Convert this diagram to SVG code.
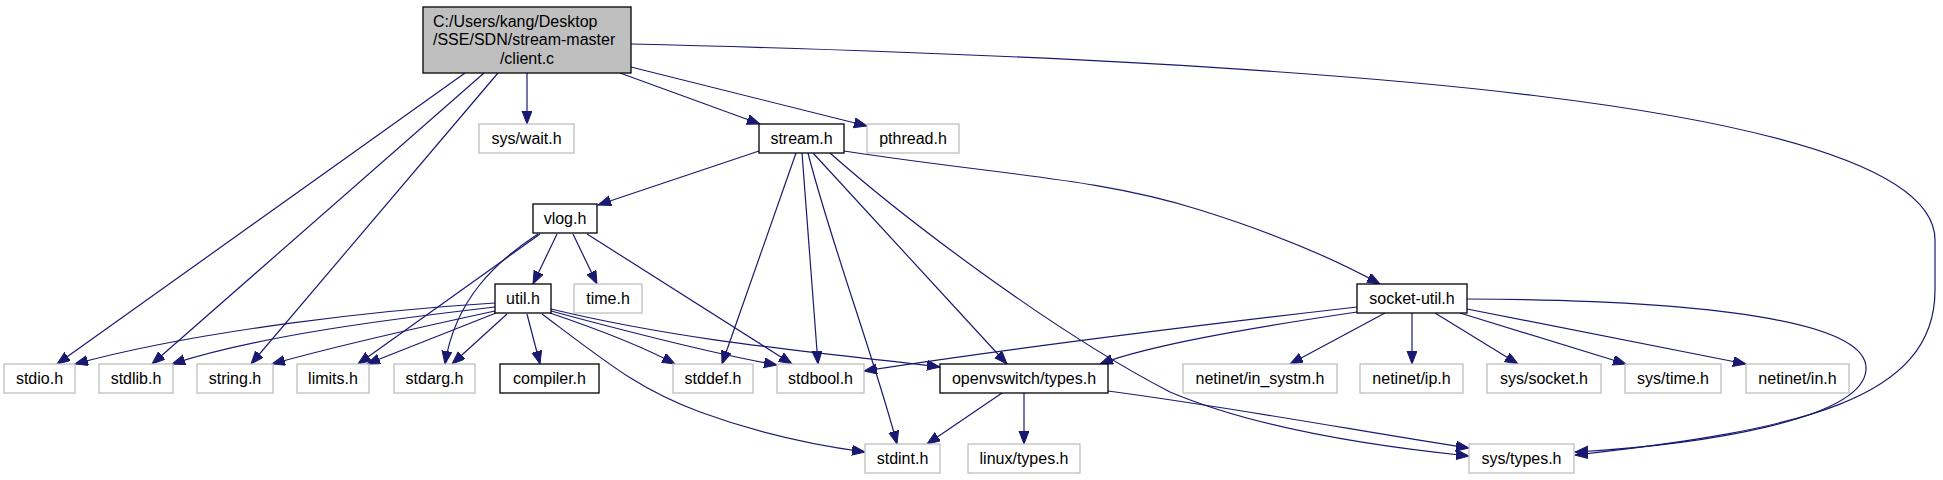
<svg xmlns="http://www.w3.org/2000/svg" width="1943" height="480" viewBox="0 0 1943 480">
<style>
text{font-family:"Liberation Sans",Arial,Helvetica,sans-serif;font-size:16px;fill:#000;text-anchor:middle}
.n rect{fill:#fff;stroke:#000;stroke-width:1.3}
.g rect{fill:#fff;stroke:#bfbfbf;stroke-width:1.3}
.e path{fill:none;stroke:#191970;stroke-width:1.2;marker-end:url(#a)}
</style>
<defs>
<marker id="a" markerUnits="userSpaceOnUse" markerWidth="14" markerHeight="11" refX="13" refY="5" orient="auto">
<path d="M0,0 L13,5 L0,10 z" fill="#191970" stroke="#191970" stroke-width="1"/>
</marker>
</defs>
<rect width="1943" height="480" fill="#fff"/>
<g id="edges" class="e">
<path d="M465,73 L57,364"/>
<path d="M484,73 L152,364"/>
<path d="M498,73 L251,364"/>
<path d="M527,73 L527,124"/>
<path d="M620,73 L760,124"/>
<path d="M631,67 L867,126"/>
<path d="M631,44 C1300,60 1935,100 1935,240 L1935,290 C1935,400 1800,430 1575,455"/>
<path d="M759,151 L598,205"/>
<path d="M796,153 L722,364"/>
<path d="M802,153 L818,364"/>
<path d="M808,153 C830,240 875,360 897,444"/>
<path d="M813,153 L1007,364"/>
<path d="M830,153 C900,215 1050,330 1170,392 C1260,430 1380,447 1469,456"/>
<path d="M844,151 C1000,175 1100,178 1200,210 C1280,235 1340,262 1380,284"/>
<path d="M557,234 L533,284"/>
<path d="M573,234 L597,284"/>
<path d="M587,234 L792,364"/>
<path d="M540,234 L358,364"/>
<path d="M538,234 C495,262 455,300 445,364"/>
<path d="M495,303 C380,310 200,330 75,364"/>
<path d="M495,307 C400,318 260,335 172,364"/>
<path d="M495,311 C430,325 340,345 272,364"/>
<path d="M496,313 L367,364"/>
<path d="M507,314 L452,364"/>
<path d="M527,314 L540,364"/>
<path d="M550,313 C600,330 640,345 675,364"/>
<path d="M551,311 C640,335 720,355 777,365"/>
<path d="M551,309 C700,345 850,355 940,367"/>
<path d="M542,314 C610,365 640,390 700,412 C760,434 820,446 865,452"/>
<path d="M1357,307 C1200,325 1000,350 864,371"/>
<path d="M1357,312 C1250,328 1150,345 1100,364"/>
<path d="M1385,313 L1290,364"/>
<path d="M1412,313 L1412,364"/>
<path d="M1435,313 L1518,364"/>
<path d="M1460,313 L1626,364"/>
<path d="M1467,309 L1746,364"/>
<path d="M1467,299 C1700,300 1870,320 1866,370 C1862,420 1700,445 1575,452"/>
<path d="M1002,393 L927,444"/>
<path d="M1024,393 L1024,444"/>
<path d="M1108,391 C1250,410 1380,435 1469,448"/>
</g>
<g id="client_c" class="n"><rect x="423" y="7" width="208" height="66" style="fill:#bfbfbf"/>
<text x="433" y="26.5" style="text-anchor:start">C:/Users/kang/Desktop</text>
<text x="433" y="45" style="text-anchor:start">/SSE/SDN/stream-master</text>
<text x="527" y="64">/client.c</text></g>
<g id="sys_wait_h" class="g"><rect x="479" y="124" width="95" height="29"/><text x="526.5" y="144">sys/wait.h</text></g>
<g id="stream_h" class="n"><rect x="759" y="124" width="85" height="29"/><text x="801.5" y="144">stream.h</text></g>
<g id="pthread_h" class="g"><rect x="867" y="124" width="92" height="29"/><text x="913" y="144">pthread.h</text></g>
<g id="vlog_h" class="n"><rect x="533" y="204" width="64" height="29"/><text x="565" y="224">vlog.h</text></g>
<g id="util_h" class="n"><rect x="495" y="284" width="56" height="29"/><text x="523" y="304">util.h</text></g>
<g id="time_h" class="g"><rect x="574" y="284" width="68" height="29"/><text x="608" y="304">time.h</text></g>
<g id="socket_util_h" class="n"><rect x="1357" y="284" width="110" height="29"/><text x="1412" y="304">socket-util.h</text></g>
<g id="stdio_h" class="g"><rect x="4" y="364" width="71" height="29"/><text x="39.5" y="384">stdio.h</text></g>
<g id="stdlib_h" class="g"><rect x="99" y="364" width="74" height="29"/><text x="136" y="384">stdlib.h</text></g>
<g id="string_h" class="g"><rect x="197" y="364" width="76" height="29"/><text x="235" y="384">string.h</text></g>
<g id="limits_h" class="g"><rect x="297" y="364" width="72" height="29"/><text x="333" y="384">limits.h</text></g>
<g id="stdarg_h" class="g"><rect x="394" y="364" width="81" height="29"/><text x="434.5" y="384">stdarg.h</text></g>
<g id="compiler_h" class="n"><rect x="500" y="364" width="99" height="29"/><text x="549.5" y="384">compiler.h</text></g>
<g id="stddef_h" class="g"><rect x="673" y="364" width="80" height="29"/><text x="713" y="384">stddef.h</text></g>
<g id="stdbool_h" class="g"><rect x="777" y="364" width="87" height="29"/><text x="820.5" y="384">stdbool.h</text></g>
<g id="openvswitch_types_h" class="n"><rect x="940" y="364" width="168" height="29"/><text x="1024" y="384">openvswitch/types.h</text></g>
<g id="netinet_in_systm_h" class="g"><rect x="1183" y="364" width="154" height="29"/><text x="1260" y="384">netinet/in_systm.h</text></g>
<g id="netinet_ip_h" class="g"><rect x="1360" y="364" width="103" height="29"/><text x="1411.5" y="384">netinet/ip.h</text></g>
<g id="sys_socket_h" class="g"><rect x="1487" y="364" width="114" height="29"/><text x="1544" y="384">sys/socket.h</text></g>
<g id="sys_time_h" class="g"><rect x="1625" y="364" width="96" height="29"/><text x="1673" y="384">sys/time.h</text></g>
<g id="netinet_in_h" class="g"><rect x="1746" y="364" width="103" height="29"/><text x="1797.5" y="384">netinet/in.h</text></g>
<g id="stdint_h" class="g"><rect x="865" y="444" width="75" height="29"/><text x="902.5" y="464">stdint.h</text></g>
<g id="linux_types_h" class="g"><rect x="968" y="444" width="112" height="29"/><text x="1024" y="464">linux/types.h</text></g>
<g id="sys_types_h" class="g"><rect x="1469" y="444" width="105" height="29"/><text x="1521.5" y="464">sys/types.h</text></g>
</svg>
